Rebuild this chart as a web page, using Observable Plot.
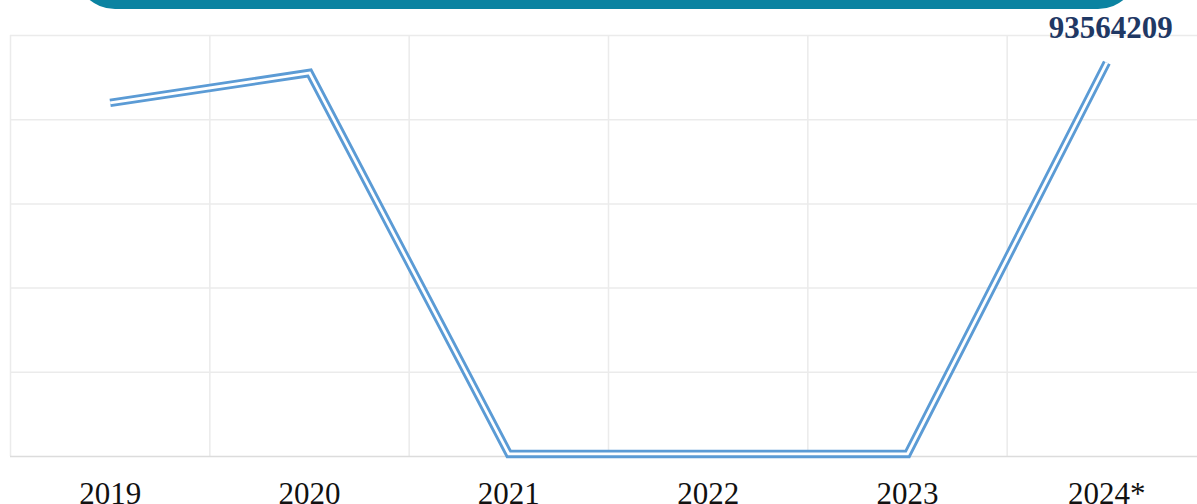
<!DOCTYPE html>
<html>
<head>
<meta charset="utf-8">
<script src="https://cdn.jsdelivr.net/npm/d3@7"></script>
<script src="https://cdn.jsdelivr.net/npm/@observablehq/plot@0.6"></script>
<style>
  html, body { margin: 0; padding: 0; background: #fff; overflow: hidden; width: 1197px; height: 504px; }
  #wrap { position: relative; width: 1197px; height: 504px; overflow: hidden; }
  #banner { position: absolute; left: 75px; top: -71px; width: 1063px; height: 80px; border-radius: 40px; background: #0b83a1; }
  #chart { position: absolute; left: 0; top: 0; width: 1216px; }
  #chart svg { max-width: none !important; }
</style>
</head>
<body>
<div id="wrap">
  <div id="chart"></div>
  <div id="banner"></div>
</div>
<script>
const years = ["2019", "2020", "2021", "2022", "2023", "2024*"];
const values = [84000000, 91100000, 600000, 600000, 600000, 93564209];
const yTicks = [0, 20000000, 40000000, 60000000, 80000000, 100000000];
const labelText = ["", "", "", "", "", "93564209"];

const data = years.map((y, i) => ({ i, year: y, value: values[i], label: labelText[i] }));
const bandEdges = d3.range(years.length + 1).map(k => k - 0.5);

const chart = Plot.plot({
  width: 1216,
  height: 504,
  marginLeft: 10,
  marginRight: 10,
  marginTop: 35,
  marginBottom: 48,
  style: { fontFamily: "'Liberation Serif', 'Times New Roman', serif", background: "transparent", overflow: "visible", maxWidth: "none" },
  x: { type: "linear", domain: [-0.5, years.length - 0.5], axis: null },
  y: { domain: [0, 100000000], axis: null },
  marks: [
    Plot.ruleX(bandEdges, { x: d => d, y1: 0, y2: 100000000, stroke: "#ebebeb", strokeWidth: 1.5 }),
    Plot.ruleY(yTicks.slice(1), { stroke: "#ebebeb", strokeWidth: 1.5 }),
    Plot.ruleY([0], { stroke: "#dcdcdc", strokeWidth: 1.5 }),
    Plot.axisX({
      ticks: d3.range(years.length),
      tickFormat: i => years[i],
      tickSize: 0,
      tickPadding: 25,
      fontSize: 31,
      fill: "#111",
      label: null,
      fontFamily: "'Liberation Serif', 'Times New Roman', serif"
    }),
    Plot.line(data, { x: "i", y: "value", stroke: "#5b9bd5", strokeWidth: 8.5, strokeLinejoin: "miter", strokeLinecap: "butt", strokeMiterlimit: 10 }),
    Plot.line(data, { x: "i", y: "value", stroke: "#ffffff", strokeWidth: 2.8, strokeLinejoin: "miter", strokeLinecap: "butt", strokeMiterlimit: 10 }),
    Plot.text(data.filter(d => d.label), {
      x: "i", y: "value", text: "label", dy: -35, dx: 4,
      fontSize: 31, fontWeight: "bold", fill: "#1f3864",
      fontFamily: "'Liberation Serif', 'Times New Roman', serif"
    })
  ]
});
document.getElementById("chart").appendChild(chart);
</script>
</body>
</html>
